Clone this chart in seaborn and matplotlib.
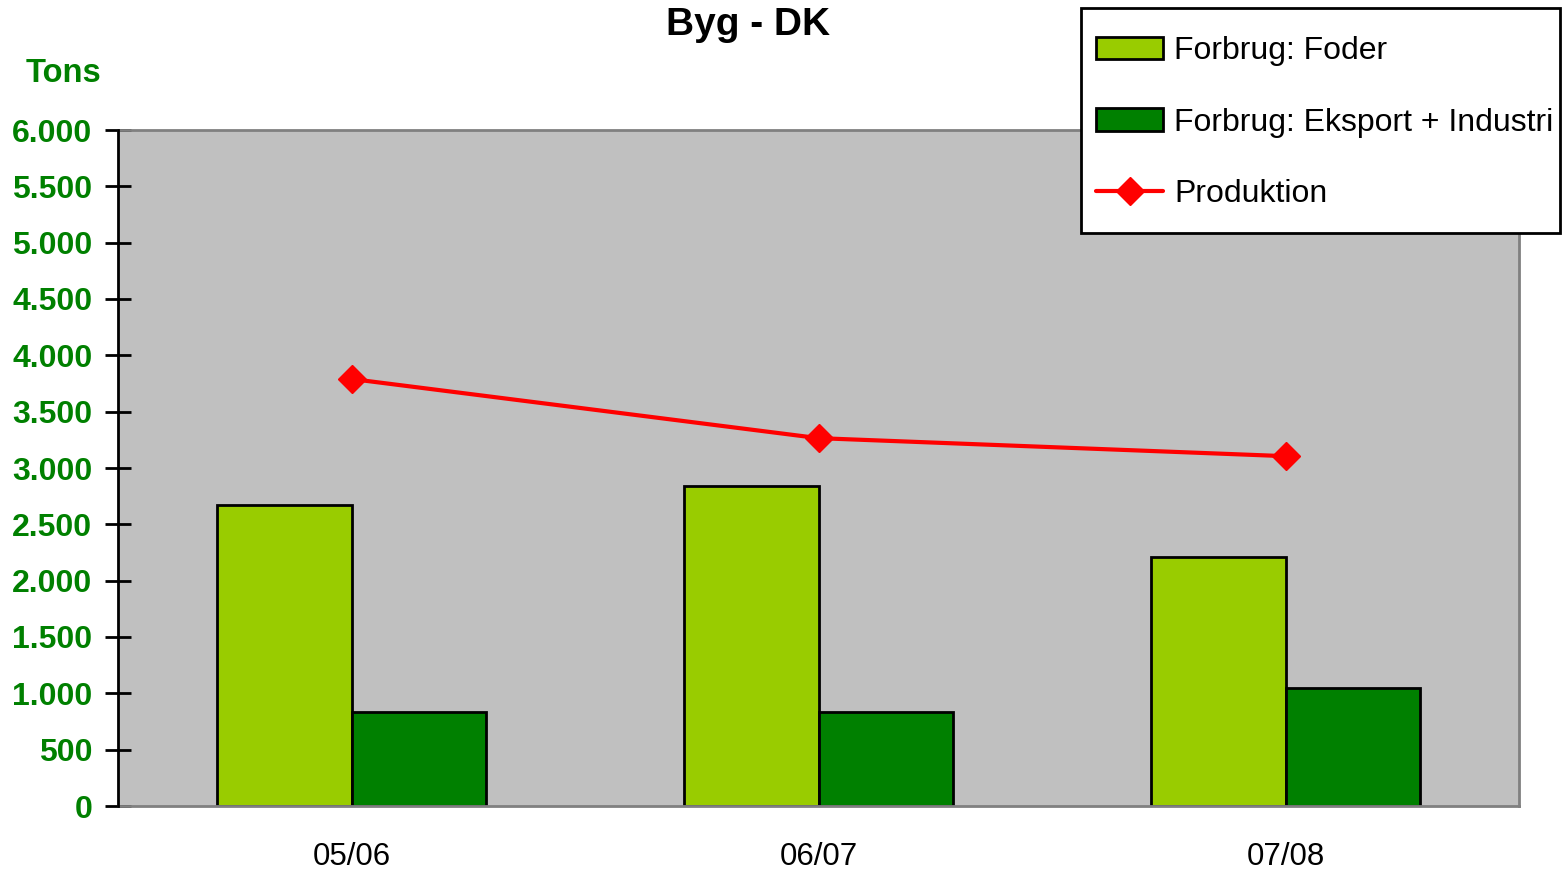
import pandas as pd
import numpy as np
import seaborn as sns
import matplotlib.pyplot as plt
from matplotlib.ticker import FuncFormatter
from matplotlib.lines import Line2D
from matplotlib.patches import Patch, Rectangle

# data (tons)
seasons = ['05/06', '06/07', '07/08']
foder = [2670, 2840, 2210]
eksport = [835, 835, 1050]
produktion = [3790, 3265, 3105]

series_names = ['Forbrug: Foder', 'Forbrug: Eksport + Industri']


def main():
    sns.set_style('white')
    plt.rcParams['font.family'] = ['Liberation Sans', 'DejaVu Sans']
    plt.rcParams['text.color'] = 'black'
    plt.rcParams['xtick.color'] = 'black'
    plt.rcParams['ytick.color'] = 'black'

    df = pd.DataFrame({
        'season': seasons * 2,
        'serie': [series_names[0]] * 3 + [series_names[1]] * 3,
        'tons': foder + eksport,
    })

    W, H = 1564, 869
    fig = plt.figure(figsize=(W / 100, H / 100), dpi=100)
    ax = fig.add_axes([118 / W, 63 / H, 1401 / W, 676 / H])
    ax.set_facecolor('#C0C0C0')

    pal = {series_names[0]: '#99CC00', series_names[1]: '#008000'}
    sns.barplot(data=df, x='season', y='tons', hue='serie', order=seasons,
                hue_order=series_names, palette=pal, width=0.574,
                edgecolor='black', linewidth=2, saturation=1, ax=ax, legend=False)

    ax.plot(range(len(seasons)), produktion, color='#FF0000', lw=3,
            marker='D', markersize=14, zorder=5)

    ax.set_xlim(-0.5, 2.5)
    ax.set_ylim(0, 6000)
    ax.set_yticks(np.arange(0, 6001, 500))
    ax.yaxis.set_major_formatter(FuncFormatter(lambda v, p: f'{int(v):,}'.replace(',', '.')))
    ax.set_xlabel('')
    ax.set_ylabel('')

    for s in ['top', 'right', 'bottom']:
        ax.spines[s].set_color('#808080')
        ax.spines[s].set_linewidth(2)
    ax.spines['left'].set_color('black')
    ax.spines['left'].set_linewidth(2)
    ax.spines['left'].set_zorder(6)

    ax.tick_params(axis='y', direction='inout', length=19, width=2, color='black',
                   labelsize=23, labelcolor='#008000', pad=9, left=True)
    ax.tick_params(axis='x', length=0, labelsize=22.5, labelcolor='black', pad=26)
    for lab in ax.get_yticklabels():
        lab.set_fontweight('bold')

    fig.text(748 / W, 1 - 25 / H, 'Byg - DK', ha='center', va='center',
             fontsize=28, fontweight='bold')
    fig.text(64 / W, 1 - 74 / H, 'Tons', ha='center', va='center',
             fontsize=23.5, fontweight='bold', color='#008000')

    # legend box drawn by hand so the padding matches the original
    fig.patches.append(Rectangle((1081 / W, 1 - 233 / H), 479 / W, 225 / H,
                                 transform=fig.transFigure, facecolor='white',
                                 edgecolor='black', linewidth=2, zorder=8))

    handles = [
        Patch(facecolor='#99CC00', edgecolor='black', linewidth=2),
        Patch(facecolor='#008000', edgecolor='black', linewidth=2),
        Line2D([], [], color='#FF0000', lw=3, marker='D', markersize=14),
    ]
    labels = series_names + ['Produktion']
    leg = fig.legend(handles, labels, loc='upper left',
                     bbox_to_anchor=(1096 / W, 1 - 36 / H),
                     fontsize=23, frameon=False, borderpad=0, labelspacing=1.3,
                     handlelength=2.1, handletextpad=0.34, borderaxespad=0)
    leg.set_zorder(9)

    fig.savefig('out.png', dpi=100)


if __name__ == '__main__':
    main()
